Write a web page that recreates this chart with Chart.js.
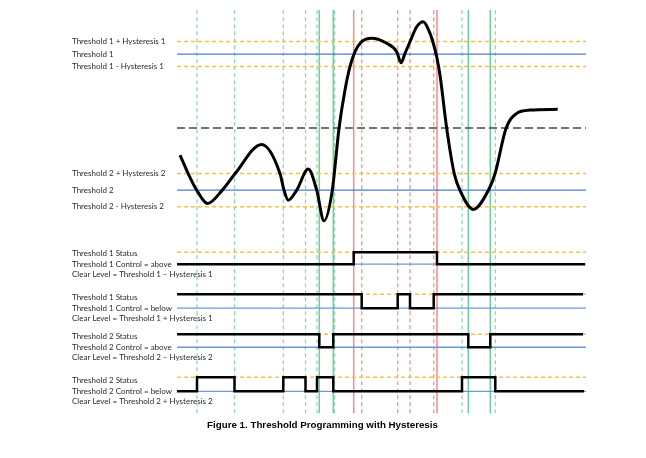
<!DOCTYPE html>
<html><head><meta charset="utf-8">
<script src="https://cdn.jsdelivr.net/npm/chart.js@4"></script>
<style>html,body{margin:0;padding:0;background:#fff}</style>
</head><body>
<canvas id="c" width="646" height="458"></canvas>
<script>
// ---- levels (signal units) ----
const T1 = 359, H1 = 12.5, T2 = 223, H2 = 16.5, MIDLINE = 285;
const X_END = 409;        // end of reference lines (time units)
const V_TOP = 403;        // top of event markers

// ---- analog input signal ----
const signalX = [3, 11.3, 19.7, 30.7, 45.3, 58, 84.7, 103, 107, 111.3, 119.7, 131.3, 139.7, 147, 155.3, 162, 168, 173, 178, 184.7, 194.7, 209.7, 219.7, 224, 228, 233, 239.7, 246.3, 253, 256.3, 259.7, 263, 269.7, 277.3, 283, 296.3, 311.3, 318, 329, 339.7, 353, 380.7];
const signalY = [258, 239.3, 223, 209.7, 223, 239.3, 268.7, 239.7, 223, 213, 223, 244, 223, 192.3, 223, 284.7, 323, 346.3, 361.3, 371.3, 374.7, 369.7, 361.3, 350.3, 359.7, 371.3, 386.3, 391.3, 379.7, 369.7, 356.3, 338, 284.7, 239.3, 222.7, 203.7, 222.7, 239.3, 284.7, 299.7, 303, 303.7];

// ---- event markers (time) ----
const greenDashedX = [20, 57.5, 106.3, 128.5, 140, 157.5, 285, 318.3];
const greenSolidX = [142.3, 156.3, 291.3, 313.3];
const redSolidX = [176.7, 260];
const redDashedX = [184.7, 220.7, 233, 256.7];

// ---- status outputs ----
const statusLow = [149, 105, 66, 22];
const statusHigh = [161, 119, 79, 36];
const statusStartHigh = [false, true, true, false];
const statusEdges = [
  [176.7, 260],
  [184.7, 220.7, 233, 256.7],
  [142.3, 156.3, 291.3, 313.3],
  [20, 57.5, 106.3, 128.5, 140, 156.3, 285, 318.3]
];
const statusEnd = [408, 406, 406, 407];

// ---- labels ----
const levelLabels = ["Threshold 1 + Hysteresis 1", "Threshold 1", "Threshold 1 - Hysteresis 1",
  "Threshold 2 + Hysteresis 2", "Threshold 2", "Threshold 2 - Hysteresis 2"];
const statusLabels = [
  ["Threshold 1 Status", "Threshold 1 Control = above", "Clear Level = Threshold 1 \u2013 Hysteresis 1"],
  ["Threshold 1 Status", "Threshold 1 Control = below", "Clear Level = Threshold 1 + Hysteresis 1"],
  ["Threshold 2 Status", "Threshold 2 Control = above", "Clear Level = Threshold 2 \u2013 Hysteresis 2"],
  ["Threshold 2 Status", "Threshold 2 Control = below", "Clear Level = Threshold 2 + Hysteresis 2"]
];
const caption = "Figure 1. Threshold Programming with Hysteresis";

// ---- build helpers ----
const levelValues = [T1 + H1, T1, T1 - H1, T2 + H2, T2, T2 - H2];
const tickValues = [], tickTexts = [];
levelValues.forEach((v, i) => { tickValues.push(v); tickTexts.push(levelLabels[i]); });
statusLow.forEach((low, r) => {
  [low + 11, low, low - 10].forEach((v, k) => { tickValues.push(v); tickTexts.push(statusLabels[r][k]); });
});

function verticals(xs) {
  const pts = [];
  xs.forEach(x => { pts.push({x, y: 0}, {x, y: V_TOP}, {x, y: null}); });
  return pts;
}
function horizontals(ys) {
  const pts = [];
  ys.forEach(y => { pts.push({x: 0, y}, {x: X_END, y}, {x: null, y: null}); });
  return pts;
}
function statusLine(r) {
  let high = statusStartHigh[r];
  const lv = h => h ? statusHigh[r] : statusLow[r];
  const pts = [{x: 0, y: lv(high)}];
  statusEdges[r].forEach(e => {
    pts.push({x: e, y: lv(high)});
    high = !high;
    pts.push({x: e, y: lv(high)});
  });
  pts.push({x: statusEnd[r], y: lv(high)});
  return pts;
}

const datasets = [
  { data: signalX.map((x, i) => ({x, y: signalY[i]})), borderColor: '#000', borderWidth: 3,
    cubicInterpolationMode: 'monotone', order: 0 },
];
for (let r = 0; r < 4; r++) {
  datasets.push({ data: statusLine(r), borderColor: '#000', borderWidth: 2.5, order: 0,
    borderJoinStyle: 'miter', borderCapStyle: 'butt' });
}
datasets.push(
  { data: horizontals([T1 + H1, T1 - H1, T2 + H2, T2 - H2, ...statusHigh]), borderColor: '#f6c244', borderWidth: 1.5, borderDash: [4, 3], order: 1 },
  { data: horizontals([T1, T2]), borderColor: '#4a7dd4', borderWidth: 1.3, order: 1 },
  { data: horizontals(statusLow), borderColor: '#6c96dc', borderWidth: 1.3, order: 1 },
  { data: horizontals([MIDLINE]), borderColor: '#474747', borderWidth: 1.5, borderDash: [8, 4], order: 1 },
  { data: verticals(greenDashedX), borderColor: '#86d9ab', borderWidth: 1.2, borderDash: [4, 3], order: 2 },
  { data: verticals(greenSolidX), borderColor: '#6fcf95', borderWidth: 1.5, order: 2 },
  { data: verticals(redSolidX), borderColor: '#f28a8a', borderWidth: 1.5, order: 2 },
  { data: verticals(redDashedX), borderColor: '#f28a8a', borderWidth: 1.2, borderDash: [4, 3], order: 2 }
);
datasets.forEach(d => { d.clip = false; d.pointRadius = 0; d.fill = false; d.spanGaps = false; if (d.tension === undefined) d.tension = 0; });

new Chart(document.getElementById('c'), {
  type: 'line',
  data: { datasets },
  options: {
    responsive: false,
    animation: false,
    events: [],
    layout: { padding: { left: 72, right: 73, top: 10, bottom: 27 } },
    plugins: {
      legend: { display: false },
      tooltip: { enabled: false },
      title: {
        display: true, position: 'bottom', text: caption, color: '#000',
        font: { family: 'Liberation Sans', size: 9.75, weight: 'bold' },
        padding: { top: 6, bottom: 0 }
      }
    },
    scales: {
      x: { type: 'linear', min: -105, max: 396, display: false },
      y: {
        type: 'linear', min: 0, max: V_TOP,
        grid: { display: false }, border: { display: false },
        afterBuildTicks: s => { s.ticks = tickValues.map(v => ({ value: v })); },
        afterFit: s => { s.width = 0; },
        ticks: {
          autoSkip: false, mirror: true, crossAlign: 'near', padding: 0, color: '#2b2b2b',
          font: { family: 'Lato', size: 8 },
          callback: (v, i) => tickTexts[i]
        }
      }
    }
  }
});
</script>
</body></html>
